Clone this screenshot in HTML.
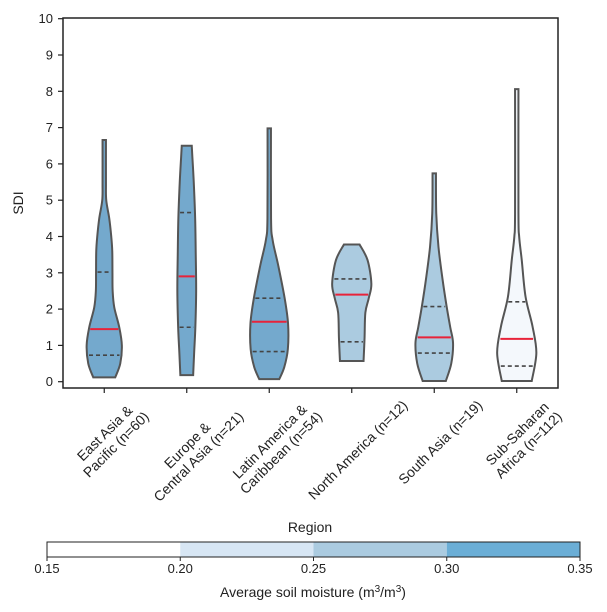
<!DOCTYPE html>
<html><head><meta charset="utf-8"><style>
body{margin:0;background:#fff;}
svg{display:block;font-family:"Liberation Sans","DejaVu Sans",sans-serif;}
</style></head><body>
<svg id="chart" width="607" height="612" viewBox="0 0 607 612" xmlns="http://www.w3.org/2000/svg"></svg>
<script>
const categories = [["East Asia &","Pacific (n=60)"],["Europe &","Central Asia (n=21)"],["Latin America &","Caribbean (n=54)"],["North America (n=12)"],["South Asia (n=19)"],["Sub-Saharan","Africa (n=112)"]];
const soilMoisture = [0.31,0.31,0.31,0.27,0.27,0.17];
const medians = [1.45,2.9,1.65,2.4,1.22,1.18];
const q1s = [0.73,1.5,0.83,1.1,0.79,0.43];
const q3s = [3.02,4.66,2.3,2.83,2.07,2.2];
const profileY = [
 [0.12,0.5,1.0,1.5,2.05,2.5,3.0,3.6,4.0,4.5,5.0,5.5,6.66],
 [0.18,0.8,1.5,2.5,3.5,4.5,5.5,6.2,6.5],
 [0.07,0.4,0.9,1.6,2.3,3.2,3.9,4.5,6.98],
 [0.57,1.2,1.9,2.3,2.7,3.35,3.78],
 [0.02,0.5,1.06,1.5,2.07,2.8,3.72,4.64,5.74],
 [0.02,0.79,1.52,2.34,3.35,4.0,4.64,8.06]
];
const profileDensity = [
 [0.55,0.8,0.88,0.75,0.5,0.42,0.41,0.4,0.35,0.25,0.1,0.085,0.085],
 [0.32,0.37,0.43,0.47,0.45,0.42,0.35,0.28,0.25],
 [0.5,0.75,0.93,0.94,0.77,0.45,0.17,0.09,0.085],
 [0.59,0.64,0.68,0.85,0.98,0.79,0.39],
 [0.58,0.85,0.94,0.8,0.62,0.42,0.21,0.1,0.085],
 [0.75,0.98,0.79,0.44,0.25,0.12,0.085,0.085]
];
const yTicks = [0,1,2,3,4,5,6,7,8,9,10];
const cbTicks = [0.15,0.20,0.25,0.30,0.35];
const cbColors = ["#ffffff","#d7e6f4","#abcbe0","#6baed6"];

const svg = document.getElementById('chart');
const NS = "http://www.w3.org/2000/svg";
const L=63, R=558, T=18, B=388;
const yS = v => 381.7 - v*36.3;
const xS = i => L + (R-L)/categories.length*(i+0.5);
const wS = d => d*20;
function colorFor(m){
  if(m<0.20) return "#f4f8fc";
  if(m<0.25) return "#d7e6f4";
  if(m<0.30) return "#abcbe0";
  return "#74a9cd";
}
function mk(tag, attrs, parent){
  const e=document.createElementNS(NS,tag);
  for(const k in attrs) e.setAttribute(k,attrs[k]);
  (parent||svg).appendChild(e); return e;
}
categories.forEach((c,i)=>{
  const g=mk('g',{});
  
  
  const cx=xS(i), ys=profileY[i], ds=profileDensity[i];
  let right=ys.map((y,k)=>[cx+wS(ds[k]),yS(y)]);
  let left=ys.map((y,k)=>[cx-wS(ds[k]),yS(y)]).reverse();
  function smooth(p){
    let d='M'+p[0][0]+','+p[0][1];
    for(let k=0;k<p.length-1;k++){
      const p0=p[Math.max(0,k-1)],p1=p[k],p2=p[k+1],p3=p[Math.min(p.length-1,k+2)];
      const c1=[p1[0]+(p2[0]-p0[0])/6,p1[1]+(p2[1]-p0[1])/6];
      const c2=[p2[0]-(p3[0]-p1[0])/6,p2[1]-(p3[1]-p1[1])/6];
      d+=' C'+c1[0]+','+c1[1]+' '+c2[0]+','+c2[1]+' '+p2[0]+','+p2[1];
    }
    return d;
  }
  const d=smooth(right)+' L'+left[0][0]+','+left[0][1]+smooth(left).replace(/^M[^ ]+/,'')+' Z';
  const body=mk('path',{d:d,fill:colorFor(soilMoisture[i]),stroke:'#555','stroke-width':2},g);
  
  
  function widthAt(v){
    for(let k=0;k<ys.length-1;k++) if(v>=ys[k]&&v<=ys[k+1]){const t=(v-ys[k])/(ys[k+1]-ys[k]);return wS(ds[k]+(ds[k+1]-ds[k])*t);}
    return wS(ds[0]);
  }
  [[q1s[i],'q1'],[q3s[i],'q3']].forEach(([v,n])=>{
    const w=widthAt(v)-1.5;
    const q=mk('line',{x1:cx-w,x2:cx+w,y1:yS(v),y2:yS(v),stroke:'#444','stroke-width':1.6,'stroke-dasharray':'4,3'},g);
    
    
  });
  const w=widthAt(medians[i])-1.2;
  const m=mk('line',{x1:cx-w,x2:cx+w,y1:yS(medians[i]),y2:yS(medians[i]),stroke:'#e8233a','stroke-width':2},g);
  
  
  const tk=mk('line',{x1:cx,x2:cx,y1:B,y2:B+5,stroke:'#222','stroke-width':1.2});
  
  
  const outer=mk('g',{});
  const tx=mk('text',{transform:'rotate(-45)','text-anchor':'middle','font-size':14,fill:'#222'},outer);
  
  
  c.forEach((line,k)=>{
    const ts=mk('tspan',{x:0,dy:k===0?0:16},tx);
    ts.textContent=line;
  });
  const bb=outer.getBoundingClientRect();
  const sb=svg.getBoundingClientRect();
  const bx=bb.left-sb.left, by=bb.top-sb.top;
  const dx=(cx+6)-(bx+bb.width/2), dy=397-by;
  outer.setAttribute('transform','translate('+dx+','+dy+')');
});
const fr=mk('rect',{x:L,y:T,width:R-L,height:B-T,fill:'none',stroke:'#222','stroke-width':1.5});


yTicks.forEach(v=>{
  const t=mk('line',{x1:L-5,x2:L,y1:yS(v),y2:yS(v),stroke:'#222','stroke-width':1.2});
  
  
  const l=mk('text',{x:L-10,y:yS(v)+4.5,'text-anchor':'end','font-size':13,fill:'#222'});
  
  
  l.textContent=v;
});
const yt=mk('text',{transform:'translate(23,203) rotate(-90)','text-anchor':'middle','font-size':14,fill:'#222'});


yt.textContent='SDI';
const xt=mk('text',{x:310,y:532,'text-anchor':'middle','font-size':14,fill:'#222'});


xt.textContent='Region';
const CL=47, CR=580, CT=542, CB=557;
const cbx=v=>CL+(v-cbTicks[0])/(cbTicks[cbTicks.length-1]-cbTicks[0])*(CR-CL);
cbColors.forEach((col,k)=>{
  const r=mk('rect',{x:cbx(cbTicks[k]),y:CT,width:cbx(cbTicks[k+1])-cbx(cbTicks[k]),height:CB-CT,fill:col});
  
  
});
const cbf=mk('rect',{x:CL,y:CT,width:CR-CL,height:CB-CT,fill:'none',stroke:'#222','stroke-width':1});


cbTicks.forEach(v=>{
  const t=mk('line',{x1:cbx(v),x2:cbx(v),y1:CB,y2:CB+4,stroke:'#222','stroke-width':1});
  
  
  const l=mk('text',{x:cbx(v),y:CB+16,'text-anchor':'middle','font-size':13,fill:'#222'});
  
  
  l.textContent=v.toFixed(2);
});
const ct=mk('text',{x:313,y:597,'text-anchor':'middle','font-size':14,fill:'#222'});


ct.innerHTML='Average soil moisture (m<tspan dy="-5" font-size="10">3</tspan><tspan dy="5">/m</tspan><tspan dy="-5" font-size="10">3</tspan><tspan dy="5">)</tspan>';
</script>
</body></html>
